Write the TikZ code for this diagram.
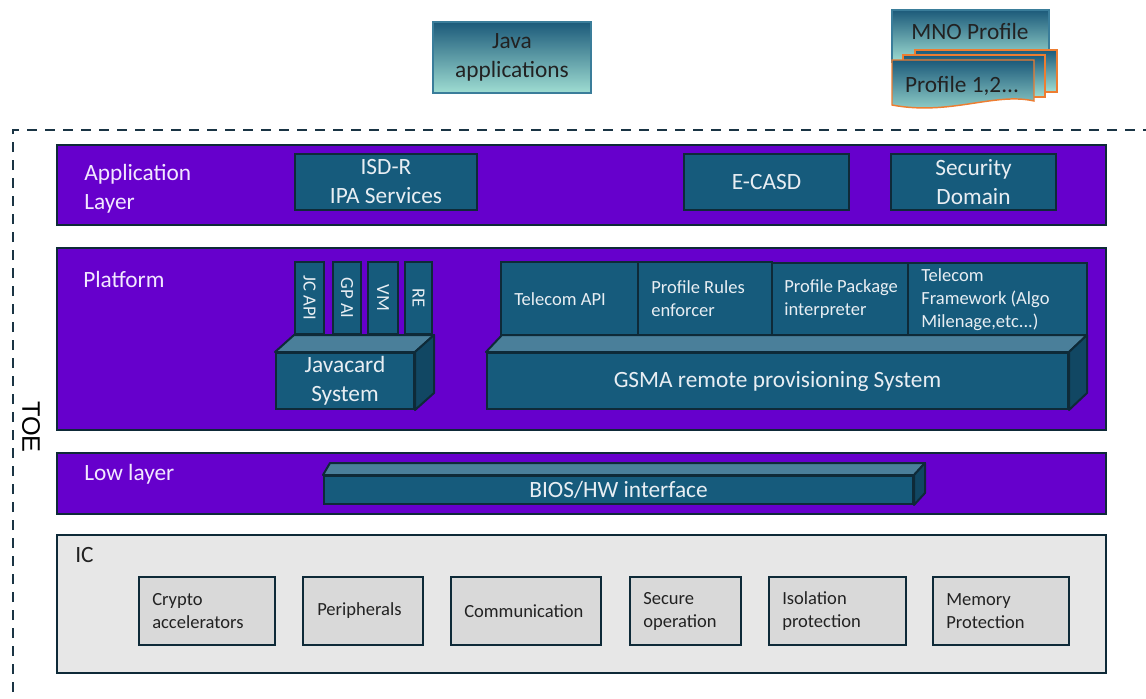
\documentclass[tikz,border=0pt]{standalone}
\usepackage{fontspec}
\setmainfont{Carlito}
\newfontfamily\toefont{Liberation Sans}
\usetikzlibrary{fit}
\definecolor{purp}{HTML}{6600CC}
\definecolor{tealf}{HTML}{165B7C}
\definecolor{tealtop}{HTML}{4A7F9A}
\definecolor{tealside}{HTML}{114763}
\definecolor{edge}{HTML}{0E2A38}
\definecolor{ltext}{HTML}{E8EEF3}
\definecolor{lav}{HTML}{F2E8FF}
\definecolor{icbg}{HTML}{E7E7E7}
\definecolor{icbox}{HTML}{D9D9D9}
\definecolor{gtop}{HTML}{1C5A7A}
\definecolor{gmid}{HTML}{B6C8D6}
\definecolor{gbot}{HTML}{9FDDD2}
\definecolor{gedge}{HTML}{3A7D9A}
\definecolor{orng}{HTML}{ED7D31}
\definecolor{dtext}{HTML}{222222}
\definecolor{dash}{HTML}{1A3444}
\newcommand{\bigf}{\fontsize{17.5}{21.75}\selectfont}
\newcommand{\smallf}{\fontsize{13.9}{17.25}\selectfont}
\begin{document}
\begin{tikzpicture}[x=0.75pt,y=-0.75pt,
  layer/.style={draw=edge, line width=1.5pt, fill=purp, inner sep=0pt},
  laytext/.style={text=lav, font=\bigf, align=left, anchor=west, inner sep=0pt},
  tbox/.style={draw=edge, line width=1.5pt, fill=tealf, inner sep=0pt},
  btext/.style={text=ltext, font=\bigf, align=center, inner sep=0pt},
  stext/.style={text=ltext, font=\smallf, align=left, anchor=west, inner sep=0pt},
  vtext/.style={text=ltext, font=\smallf, rotate=-90, inner sep=0pt},
  topface/.style={draw=edge, line width=1.5pt, fill=tealtop, line join=round},
  sideface/.style={draw=edge, line width=1.5pt, fill=tealside, line join=round},
  icframe/.style={draw=edge, line width=1.5pt, fill=icbg, inner sep=0pt},
  icb/.style={draw=edge, line width=1.5pt, fill=icbox, inner sep=0pt},
  ictext/.style={text=dtext, font=\smallf, align=left, anchor=west, inner sep=0pt},
  grad/.style={top color=gtop, middle color=gmid, bottom color=gbot},
  gradbox/.style={grad, draw=gedge, line width=0.8pt, inner sep=0pt},
  doc/.style={grad, draw=orng, line width=1.1pt},
  darktext/.style={text=dtext, font=\bigf, align=center, inner sep=0pt},
  toeborder/.style={draw=dash, line width=1.8pt, dash pattern=on 7.5pt off 6pt}
]
\useasboundingbox (0,0) rectangle (1146,699);

% TOE dashed border
\draw[toeborder] (13,710) -- (13,130) -- (1160,130);
\node[font=\toefont\fontsize{19}{21}\selectfont, rotate=-90, inner sep=0pt] (toe) at (31,427) {TOE};

% top items
\node[gradbox, fit={(433,22)(591,93)}] (java) {};
\node[darktext] (javat) at (java.center) {Java\\applications};
\node[gradbox, fit={(892,10)(1049,62)}] (mno) {};
\node[darktext] (mnot) at (970,31) {MNO Profile};
\draw[doc] (915,50) rectangle (1057,92);
\draw[doc] (903,55) rectangle (1045,97);
\draw[doc] (892,60) -- (1034,60) -- (1034,101) .. controls (995,92) and (950,116) .. (892,105) -- cycle;
\node[darktext] (prof) at (962,86) {Profile 1,2...};

% layers
\node[layer, fit={(57,145)(1106,225)}] (app) {};
\node[laytext] (appt) at (84,188.5) {Application\\Layer};
\node[layer, fit={(57,248)(1106,430)}] (plat) {};
\node[laytext] (platt) at (83,279) {Platform};
\node[layer, fit={(57,453)(1106,514)}] (low) {};
\node[laytext] (lowt) at (84,474) {Low layer};
\node[icframe, fit={(57,535)(1106,673)}] (ic) {};
\node[ictext, font=\bigf] (ict) at (75,555) {IC};

% application layer boxes
\node[tbox, fit={(295,154)(477,210)}] (isdr) {};
\node[btext] (isdrt) at (isdr.center) {ISD-R\\IPA Services};
\node[tbox, fit={(684,154)(849,210)}] (ecasd) {};
\node[btext] (ecasdt) at (ecasd.center) {E-CASD};
\node[tbox, fit={(891,154)(1056,210)}] (sd) {};
\node[btext] (sdt) at (sd.center) {Security\\Domain};

% javacard stack
\node[tbox, fit={(295,262)(324,334)}] (jcapi) {};
\node[vtext] (jcapit) at (jcapi.center) {JC API};
\node[tbox, fit={(333,262)(361,334)}] (gpai) {};
\node[vtext] (gpait) at (gpai.center) {GP AI};
\node[tbox, fit={(368,262)(398,334)}] (vm) {};
\node[vtext] (vmt) at (vm.center) {VM};
\node[tbox, fit={(405,262)(432,334)}] (re) {};
\node[vtext] (ret) at (re.center) {RE};
\node[tbox, fit={(276,353)(414,409)}] (jcs) {};
\draw[topface] (jcs.north west) -- ++(19,-17) -- ([shift={(19,-17)}]jcs.north east) -- (jcs.north east) -- cycle;
\draw[sideface] (jcs.north east) -- ++(19,-17) -- ([shift={(19,-17)}]jcs.south east) -- (jcs.south east) -- cycle;
\node[btext] (jcst) at (jcs.center) {Javacard\\System};

% telecom boxes
\node[tbox, fit={(501,262)(638,335)}] (tapi) {};
\node[stext] (tapit) at (514,299) {Telecom API};
\node[tbox, fit={(638,262)(772,335)}] (pre) {};
\node[stext] (pret) at (651,298.5) {Profile Rules\\enforcer};
\node[tbox, fit={(772,263)(908,337)}] (ppi) {};
\node[stext] (ppit) at (784,299.5) {Profile Package\\interpreter};
\node[tbox, fit={(908,263)(1087,336)}] (tfw) {};
\node[stext] (tfwt) at (921,300) {Telecom\\Framework (Algo\\Milenage,etc...)};
\node[tbox, fit={(487,353)(1068,409)}] (gsma) {};
\draw[topface] (gsma.north west) -- ++(16,-17) -- ([shift={(18,-17)}]gsma.north east) -- (gsma.north east) -- cycle;
\draw[sideface] (gsma.north east) -- ++(18,-17) -- ([shift={(18,-17)}]gsma.south east) -- (gsma.south east) -- cycle;
\node[btext] (gsmat) at (gsma.center) {GSMA remote provisioning System};

% BIOS
\node[tbox, fit={(324,476)(913,504)}] (bios) {};
\draw[topface] (bios.north west) -- ++(7,-12) -- ([shift={(11,-12)}]bios.north east) -- (bios.north east) -- cycle;
\draw[sideface] (bios.north east) -- ++(11,-12) -- ([shift={(11,-12)}]bios.south east) -- (bios.south east) -- cycle;
\node[btext] (biost) at (bios.center) {BIOS/HW interface};

% IC boxes
\node[icb, fit={(139,577)(275,645)}] (crypto) {};
\node[ictext] (cryptot) at (152,611.5) {Crypto\\accelerators};
\node[icb, fit={(303,577)(423,645)}] (peri) {};
\node[ictext] (perit) at (317,611) {Peripherals};
\node[icb, fit={(451,577)(601,645)}] (comm) {};
\node[ictext] (commt) at (464,611) {Communication};
\node[icb, fit={(630,577)(741,645)}] (secop) {};
\node[ictext] (secopt) at (643,611.5) {Secure\\operation};
\node[icb, fit={(769,577)(906,645)}] (iso) {};
\node[ictext] (isot) at (782,611.5) {Isolation\\protection};
\node[icb, fit={(933,577)(1069,645)}] (mem) {};
\node[ictext] (memt) at (946,611.5) {Memory\\Protection};
\end{tikzpicture}
\end{document}
